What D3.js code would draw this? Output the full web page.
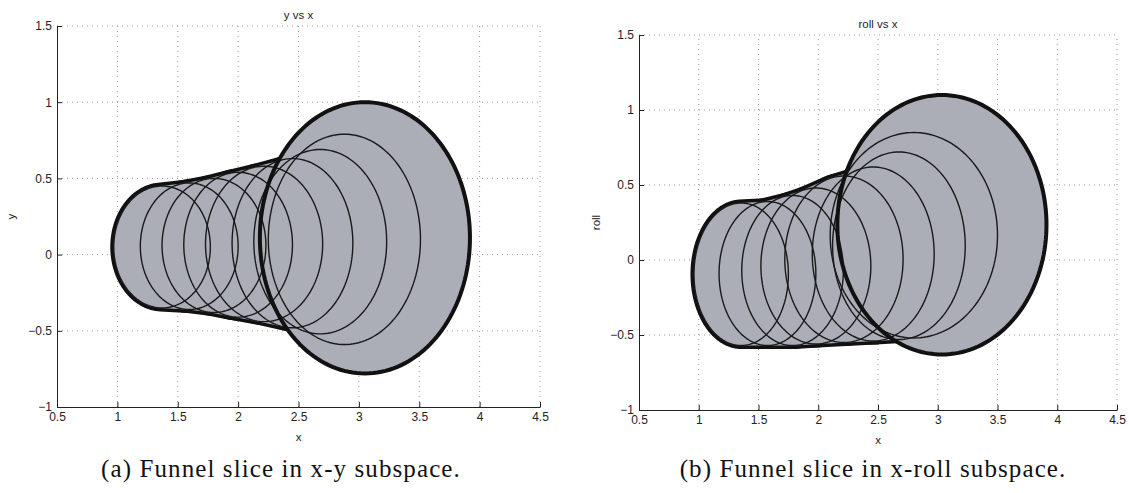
<!DOCTYPE html>
<html>
<head>
<meta charset="utf-8">
<script src="https://cdn.jsdelivr.net/npm/d3@7"></script>
<style>
  body { margin: 0; background: #fff; }
  svg text { font-family: "Liberation Sans", Arial, Helvetica, sans-serif; fill: #222; }
  svg text.caption { font-family: "Liberation Serif", "DejaVu Serif", serif; fill: #111; letter-spacing: 1.1px; }
</style>
</head>
<body>
<svg id="chart" width="1129" height="493"></svg>
<script>
// Tick values shared by both panels
const xTicks = [0.5, 1, 1.5, 2, 2.5, 3, 3.5, 4, 4.5];
const yTicks = [-1, -0.5, 0, 0.5, 1, 1.5];

// Funnel slices projected on x-y: extents of each ellipse (last one is the goal slice)
const xyLeft   = [0.97, 1.19, 1.37, 1.55, 1.73, 1.95, 2.13, 2.25, 2.18];
const xyRight  = [1.77, 2.00, 2.23, 2.45, 2.70, 2.95, 3.23, 3.51, 3.92];
const xyTop    = [0.45, 0.47, 0.50, 0.54, 0.58, 0.63, 0.69, 0.79, 1.00];
const xyBottom = [-0.35, -0.36, -0.38, -0.41, -0.44, -0.48, -0.52, -0.59, -0.78];

// Funnel slices projected on x-roll
const xrLeft   = [0.96, 1.17, 1.36, 1.52, 1.72, 1.95, 2.12, 2.10, 2.16];
const xrRight  = [1.75, 1.98, 2.21, 2.44, 2.71, 2.97, 3.23, 3.50, 3.91];
const xrTop    = [0.38, 0.39, 0.43, 0.48, 0.56, 0.62, 0.72, 0.85, 1.10];
const xrBottom = [-0.57, -0.57, -0.57, -0.56, -0.55, -0.54, -0.53, -0.52, -0.63];

const svg = d3.select("#chart");
const fmt = d => String(d).replace("-", "\u2212");

function drawPanel(cfg) {
  const g = svg.append("g");
  const x = d3.scaleLinear().domain([0.5, 4.5]).range([cfg.left, cfg.right]);
  const y = d3.scaleLinear().domain([-1, 1.5]).range([cfg.bottom, cfg.top]);

  // dotted grid
  const grid = g.append("g").attr("stroke", "#9a9a9a").attr("stroke-width", 1)
    .attr("stroke-dasharray", "1,4");
  grid.selectAll("line.gx").data(xTicks.slice(1)).join("line").attr("class", "gx")
    .attr("x1", d => x(d)).attr("x2", d => x(d))
    .attr("y1", cfg.bottom).attr("y2", cfg.top);
  grid.selectAll("line.gy").data(yTicks.slice(1)).join("line").attr("class", "gy")
    .attr("x1", cfg.left).attr("x2", cfg.right)
    .attr("y1", d => y(d)).attr("y2", d => y(d));

  // ellipses sampled in pixel space
  const n = cfg.L.length;
  const steps = 160;
  const ellipses = d3.range(n).map(i => {
    const cx = (cfg.L[i] + cfg.R[i]) / 2, rx = (cfg.R[i] - cfg.L[i]) / 2;
    const cy = (cfg.T[i] + cfg.B[i]) / 2, ry = (cfg.T[i] - cfg.B[i]) / 2;
    return d3.range(steps).map(k => {
      const t = k / steps * 2 * Math.PI;
      return [x(cx + rx * Math.cos(t)), y(cy + ry * Math.sin(t))];
    });
  });
  const last = n - 1;
  // tube between consecutive slices
  const hulls = d3.range(last - 1).map(i => d3.polygonHull(ellipses[i].concat(ellipses[i + 1])));
  const line = d3.line().curve(d3.curveLinearClosed);

  g.append("g").selectAll("path").data(hulls).join("path")
    .attr("d", line).attr("fill", "none").attr("stroke", "#111")
    .attr("stroke-width", 7).attr("stroke-linejoin", "round");
  g.append("g").selectAll("path").data(hulls.concat([ellipses[last]])).join("path")
    .attr("d", line).attr("fill", "#abadb7").attr("stroke", "none");
  g.append("g").selectAll("path").data(ellipses.slice(0, last)).join("path")
    .attr("d", line).attr("fill", "none").attr("stroke", "#1a1a1a").attr("stroke-width", 1.4);
  g.append("path").datum(ellipses[last]).attr("d", line)
    .attr("fill", "none").attr("stroke", "#111").attr("stroke-width", 4);

  // axes (left and bottom only, ticks pointing inward)
  const ax = g.append("g").attr("transform", `translate(0,${cfg.bottom})`)
    .call(d3.axisBottom(x).tickValues(xTicks).tickFormat(fmt)
      .tickSizeInner(-5).tickSizeOuter(0).tickPadding(5));
  const ay = g.append("g").attr("transform", `translate(${cfg.left},0)`)
    .call(d3.axisLeft(y).tickValues(yTicks).tickFormat(fmt)
      .tickSizeInner(-5).tickSizeOuter(0).tickPadding(5));
  [ax, ay].forEach(a => {
    a.attr("font-family", null).attr("font-size", null);
    a.selectAll("path.domain").attr("stroke", "#222");
    a.selectAll(".tick line").attr("stroke", "#222");
    a.selectAll(".tick text").attr("font-size", 12).style("fill", "#222");
  });

  const midX = (cfg.left + cfg.right) / 2, midY = (cfg.top + cfg.bottom) / 2;
  g.append("text").attr("x", midX).attr("y", cfg.top - 7).attr("text-anchor", "middle")
    .attr("font-size", 11.5).text(cfg.title);
  g.append("text").attr("x", midX).attr("y", cfg.bottom + 34).attr("text-anchor", "middle")
    .attr("font-size", 11.5).text("x");
  g.append("text").attr("transform", `translate(${cfg.ylabX},${midY}) rotate(-90)`)
    .attr("text-anchor", "middle").attr("font-size", 11.5).text(cfg.ylabel);
  g.append("text").attr("class", "caption").attr("x", cfg.capX).attr("y", 477)
    .attr("text-anchor", "middle").attr("font-size", 25).text(cfg.caption);
}

drawPanel({
  left: 57, right: 540, top: 26, bottom: 407,
  L: xyLeft, R: xyRight, T: xyTop, B: xyBottom,
  title: "y vs x", ylabel: "y", ylabX: 15,
  caption: "(a) Funnel slice in x-y subspace.", capX: 281
});
drawPanel({
  left: 639, right: 1117, top: 35, bottom: 410,
  L: xrLeft, R: xrRight, T: xrTop, B: xrBottom,
  title: "roll vs x", ylabel: "roll", ylabX: 600,
  caption: "(b) Funnel slice in x-roll subspace.", capX: 873
});
</script>
</body>
</html>
